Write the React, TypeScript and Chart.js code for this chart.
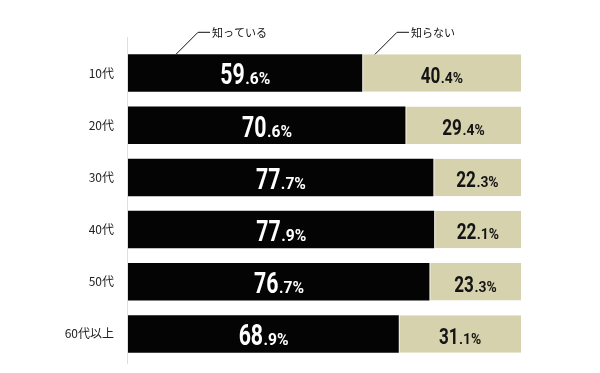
import React, { useEffect, useRef } from "react";
import { Chart, registerables } from "chart.js";

Chart.register(...registerables);

const categories = ["10代", "20代", "30代", "40代", "50代", "60代以上"];
const knownValues = [59.6, 70.6, 77.7, 77.9, 76.7, 68.9];
const unknownValues = [40.4, 29.4, 22.3, 22.1, 23.3, 31.1];
const seriesNames = ["知っている", "知らない"];

const KNOWN_COLOR = "#040404";
const UNKNOWN_COLOR = "#d7d2ae";
const JP_FONT = "'Noto Sans CJK JP', 'Noto Sans', sans-serif";
const NUM_FONT = "Roboto, 'DejaVu Sans', sans-serif";

type LabelStyle = {
  big: number;
  small: number;
  sxBig: number;
  sxSmall: number;
  color: string;
  dy: number;
};

const darkStyle: LabelStyle = { big: 30, small: 17, sxBig: 0.71, sxSmall: 0.92, color: "#ffffff", dy: 11.4 };
const lightStyle: LabelStyle = { big: 22.5, small: 14.6, sxBig: 0.76, sxSmall: 0.95, color: "#141414", dy: 9.8 };

function drawValue(ctx: CanvasRenderingContext2D, value: number, cx: number, cy: number, st: LabelStyle) {
  const s = value.toFixed(1);
  const dot = s.indexOf(".");
  const bigTxt = s.slice(0, dot);
  const smallTxt = s.slice(dot) + "%";
  const bigFont = `700 ${st.big}px ${NUM_FONT}`;
  const smallFont = `700 ${st.small}px ${NUM_FONT}`;
  ctx.font = bigFont;
  const wb = ctx.measureText(bigTxt).width * st.sxBig;
  ctx.font = smallFont;
  const ws = ctx.measureText(smallTxt).width * st.sxSmall;
  const x0 = cx - (wb + ws) / 2;
  const baseline = cy + st.dy;
  ctx.save();
  ctx.fillStyle = st.color;
  ctx.textAlign = "left";
  ctx.textBaseline = "alphabetic";
  ctx.save();
  ctx.translate(x0, baseline);
  ctx.scale(st.sxBig, 1);
  ctx.font = bigFont;
  ctx.fillText(bigTxt, 0, 0);
  ctx.restore();
  ctx.save();
  ctx.translate(x0 + wb + 0.5, baseline);
  ctx.scale(st.sxSmall, 1);
  ctx.font = smallFont;
  ctx.fillText(smallTxt, 0, 0);
  ctx.restore();
  ctx.restore();
}

const valueLabelPlugin = {
  id: "valueLabels",
  afterDatasetsDraw(chart: any) {
    const ctx: CanvasRenderingContext2D = chart.ctx;
    chart.data.datasets.forEach((ds: any, di: number) => {
      const meta = chart.getDatasetMeta(di);
      meta.data.forEach((el: any, i: number) => {
        const { x, base, y } = el.getProps(["x", "base", "y"], true);
        const cx = (x + base) / 2;
        drawValue(ctx, ds.data[i], cx, y, di === 0 ? darkStyle : lightStyle);
      });
    });
  },
};

const annotationPlugin = {
  id: "annotations",
  afterDraw(chart: any) {
    const ctx: CanvasRenderingContext2D = chart.ctx;
    const area = chart.chartArea;
    ctx.save();
    // axis line
    ctx.strokeStyle = "#dedede";
    ctx.lineWidth = 1;
    ctx.beginPath();
    ctx.moveTo(area.left - 0.5, area.top - 10);
    ctx.lineTo(area.left - 0.5, area.bottom + 4);
    ctx.stroke();

    const first = chart.getDatasetMeta(0).data[0];
    const { y, height } = first.getProps(["y", "height"], true);
    const barTop = y - height / 2;
    const starts = [area.left + 48, area.left + 247];
    ctx.strokeStyle = "#111";
    ctx.lineWidth = 1;
    ctx.fillStyle = "#111";
    ctx.font = `11px ${JP_FONT}`;
    ctx.textAlign = "left";
    ctx.textBaseline = "middle";
    starts.forEach((sx, k) => {
      const ty = barTop - 22;
      ctx.beginPath();
      ctx.moveTo(sx, barTop);
      ctx.lineTo(sx + 22, ty);
      ctx.lineTo(sx + 34, ty);
      ctx.stroke();
      ctx.fillText(seriesNames[k], sx + 36, ty + 1);
    });
    ctx.restore();
  },
};

export default function App() {
  const canvasRef = useRef<HTMLCanvasElement | null>(null);

  useEffect(() => {
    document.body.style.margin = "0";
    const canvas = canvasRef.current;
    if (!canvas) return;
    const chart = new Chart(canvas, {
      type: "bar",
      data: {
        labels: categories,
        datasets: [
          {
            label: seriesNames[0],
            data: knownValues,
            backgroundColor: KNOWN_COLOR,
            borderWidth: 0,
            barPercentage: 0.72,
            categoryPercentage: 1,
          },
          {
            label: seriesNames[1],
            data: unknownValues,
            backgroundColor: UNKNOWN_COLOR,
            borderColor: "#f2f0e4",
            borderWidth: { left: 1, top: 0, right: 0, bottom: 0 },
            borderSkipped: false,
            barPercentage: 0.72,
            categoryPercentage: 1,
          },
        ],
      },
      options: {
        indexAxis: "y",
        responsive: false,
        animation: false,
        maintainAspectRatio: false,
        layout: { padding: { top: 47, bottom: 13, right: 79, left: 0 } },
        plugins: {
          legend: { display: false },
          tooltip: { enabled: false },
        },
        scales: {
          x: {
            stacked: true,
            min: 0,
            max: 100,
            display: false,
          },
          y: {
            stacked: true,
            grid: { display: false, drawTicks: false },
            border: { display: false },
            ticks: {
              color: "#222",
              padding: 14,
              font: { family: JP_FONT, size: 12 },
            },
            afterFit(scale: any) {
              scale.width = 128;
              scale.paddingTop = 0;
              scale.paddingBottom = 0;
            },
          },
        },
      },
      plugins: [valueLabelPlugin, annotationPlugin],
    } as any);
    return () => chart.destroy();
  }, []);

  return (
    <div style={{ position: "absolute", left: 0, top: 0, width: 600, height: 373, background: "#fff" }}>
      <canvas ref={canvasRef} width={600} height={373} />
    </div>
  );
}
